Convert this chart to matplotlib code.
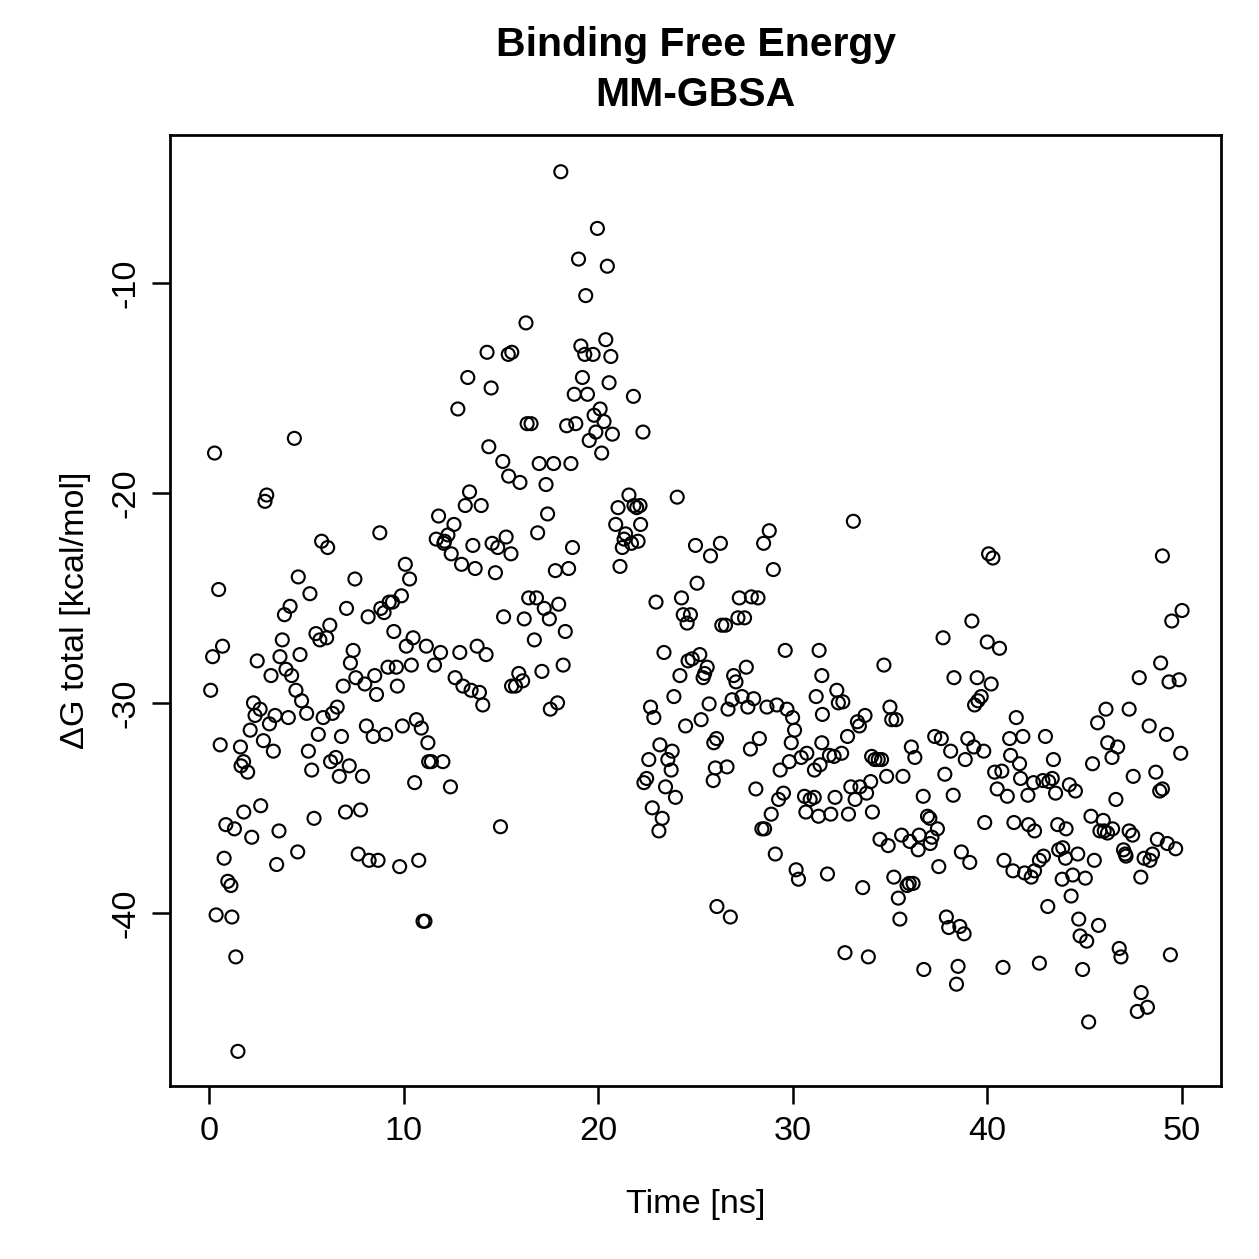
import matplotlib
matplotlib.use("Agg")
import matplotlib.pyplot as plt

plt.rcParams['font.family'] = ['Liberation Sans', 'DejaVu Sans']

time_ns = [
 0.09,0.19,0.29,0.37,0.50,0.58,0.70,0.78,0.87,0.97,1.13,1.18,1.31,1.38,1.49,1.62,1.65,1.78,1.79,1.99,
 2.12,2.20,2.29,2.37,2.48,2.63,2.66,2.80,2.88,2.97,3.11,3.19,3.31,3.40,3.48,3.60,3.65,3.77,3.88,3.96,
 4.08,4.17,4.25,4.39,4.47,4.56,4.59,4.68,4.76,
 5.02,5.11,5.19,5.28,5.40,5.50,5.62,5.70,5.79,5.87,6.05,6.10,6.21,6.25,6.35,6.52,6.59,6.70,6.81,6.90,
 7.02,7.07,7.21,7.27,7.41,7.50,7.55,7.67,7.79,7.89,8.01,8.09,8.18,8.23,8.44,8.52,8.61,8.69,8.78,8.83,
 9.00,9.08,9.20,9.26,9.43,9.50,9.63,9.68,9.80,9.89,9.94,
 10.09,10.31,10.40,10.14,10.49,10.57,10.66,10.78,10.91,11.00,11.10,11.17,11.25,11.29,11.43,11.59,11.68,11.80,11.90,12.02,
 12.07,12.11,12.28,12.41,12.45,12.59,12.65,12.79,12.89,12.98,13.05,13.17,13.30,13.39,13.47,13.56,13.68,13.78,13.90,13.99,
 14.07,14.24,14.29,14.38,14.50,14.55,14.72,14.84,14.98,15.10,15.14,15.27,15.38,15.40,15.52,15.55,15.56,
 15.75,15.92,15.98,16.12,16.20,16.29,16.35,16.43,16.55,16.72,16.83,16.89,16.97,17.11,17.23,17.32,17.40,17.49,17.54,17.71,
 17.80,17.91,17.97,18.08,18.20,18.31,18.38,18.48,18.60,18.68,18.77,18.85,18.99,19.11,19.19,19.31,19.36,19.45,19.54,19.74,
 19.79,19.88,19.96,20.10,20.18,20.30,20.39,20.47,20.56,20.65,20.73,
 20.90,21.02,21.12,21.24,21.33,21.41,21.58,21.71,21.81,21.84,21.98,22.05,22.15,22.18,22.30,22.35,22.49,22.60,22.69,22.78,
 22.86,22.97,23.12,23.17,23.29,23.38,23.46,23.58,23.75,23.80,23.89,23.97,24.06,24.20,24.28,24.37,24.49,24.57,24.62,24.74,
 24.83,25.00,25.08,25.22,25.29,25.39,25.47,25.60,25.70,25.77,25.91,25.94,26.02,26.08,26.10,
 26.28,26.35,26.54,26.62,26.67,26.79,26.88,26.96,27.08,27.18,27.25,27.39,27.52,27.61,27.69,27.82,27.87,27.99,28.10,28.21,
 28.28,28.41,28.50,28.55,28.67,28.79,28.89,29.00,29.10,29.18,29.27,29.35,29.52,29.61,29.70,29.82,29.92,29.99,30.09,30.17,
 30.29,30.43,30.60,30.67,30.72,30.89,31.10,31.11,31.20,31.32,31.35,31.49,31.49,31.52,
 31.40,31.78,31.88,31.95,32.12,32.17,32.26,32.34,32.51,32.57,32.68,32.81,32.86,32.98,33.11,33.20,33.32,33.42,33.45,33.59,
 33.71,33.79,33.88,34.00,34.05,34.09,34.22,34.39,34.48,34.56,34.68,34.82,34.90,34.99,35.08,35.19,35.30,35.42,35.50,35.59,
 35.66,35.87,35.98,36.01,36.09,36.18,36.27,36.44,36.49,36.70,36.73,
 36.92,37.04,37.15,37.06,37.29,37.43,37.50,37.63,37.72,37.81,37.89,38.01,38.11,38.24,38.28,38.41,38.49,38.58,38.66,38.80,
 38.86,38.99,39.09,39.20,39.30,39.34,39.47,39.51,39.68,39.81,39.86,39.99,40.06,40.19,40.28,40.37,40.50,40.62,40.74,40.80,
 40.85,41.02,41.14,41.19,41.31,41.36,41.48,41.65,41.70,41.82,41.91,42.08,42.11,42.25,
 42.37,42.42,42.42,42.67,42.67,42.85,42.88,42.98,43.10,43.15,43.33,43.39,43.50,43.61,43.66,43.84,43.87,44.01,44.04,44.21,
 44.30,44.38,44.52,44.64,44.69,44.76,44.89,45.03,45.10,45.20,45.32,45.40,45.49,45.66,45.71,45.78,45.95,46.00,46.09,46.17,
 46.18,46.40,46.43,46.60,46.69,46.77,46.86,46.99,47.08,47.12,47.28,47.28,47.46,47.49,
 47.70,47.80,47.88,47.90,48.05,48.22,48.31,48.35,48.48,48.65,48.73,48.85,48.90,48.99,48.99,49.20,49.24,49.33,49.40,49.47,
 49.67,49.85,49.93,50.00,
]

dg_total = [
 -29.4,-27.8,-18.1,-40.1,-24.6,-32.0,-27.3,-37.4,-35.8,-38.5,-38.7,-40.2,-36.0,-42.1,-46.6,-32.1,-33.0,-32.8,-35.2,-33.3,
 -31.3,-36.4,-30.0,-30.6,-28.0,-30.3,-34.9,-31.8,-20.4,-20.1,-31.0,-28.7,-32.3,-30.6,-37.7,-36.1,-27.8,-27.0,-25.8,-28.4,
 -30.7,-25.4,-28.7,-17.4,-29.4,-37.1,-24.0,-27.7,-29.9,
 -30.5,-32.3,-24.8,-33.2,-35.5,-26.7,-31.5,-27.0,-22.3,-30.7,-26.9,-22.6,-26.3,-32.8,-30.5,-32.6,-30.2,-33.5,-31.6,-29.2,
 -35.2,-25.5,-33.0,-28.1,-27.5,-24.1,-28.8,-37.2,-35.1,-33.5,-29.1,-31.1,-25.9,-37.5,-31.6,-28.7,-29.6,-37.5,-21.9,-25.5,
 -25.7,-31.5,-28.3,-25.2,-25.2,-26.6,-28.3,-29.2,-37.8,-24.9,-31.1,
 -23.4,-24.1,-28.2,-27.3,-26.9,-33.8,-30.8,-37.5,-31.2,-40.4,-40.4,-27.3,-31.9,-32.8,-32.8,-28.2,-22.2,-21.1,-27.6,-32.8,
 -22.4,-22.3,-22.0,-34.0,-22.9,-21.5,-28.8,-16.0,-27.6,-23.4,-29.2,-20.6,-14.5,-19.95,-29.4,-22.5,-23.6,-27.3,-29.5,-20.6,
 -30.1,-27.7,-13.3,-17.8,-15.0,-22.4,-23.8,-22.6,-35.9,-18.5,-25.9,-22.1,-13.4,-19.2,-22.9,-29.2,-13.3,
 -29.2,-28.6,-19.5,-28.95,-26.0,-11.9,-16.7,-25.0,-16.7,-27.0,-25.0,-21.9,-18.6,-28.5,-25.5,-19.6,-21.0,-26.0,-30.3,-18.6,
 -23.7,-30.0,-25.3,-4.7,-28.2,-26.6,-16.8,-23.6,-18.6,-22.6,-15.3,-16.7,-8.86,-13.0,-14.5,-13.4,-10.6,-15.3,-17.5,-13.4,
 -16.3,-17.1,-7.4,-16.0,-18.1,-16.6,-12.7,-9.2,-14.75,-13.5,-17.2,
 -21.5,-20.7,-23.5,-22.6,-22.2,-21.95,-20.1,-22.4,-15.4,-20.6,-20.7,-22.3,-20.6,-21.5,-17.1,-33.8,-33.6,-32.7,-30.2,-35.0,
 -30.7,-25.2,-36.1,-32.0,-35.5,-27.6,-34.0,-32.7,-33.2,-32.3,-29.7,-34.5,-20.2,-28.7,-25.0,-25.8,-31.1,-26.2,-28.0,-25.8,
 -27.9,-22.5,-24.3,-27.7,-30.8,-28.8,-28.6,-28.3,-30.05,-23.0,-33.7,-31.9,-33.1,-31.7,-39.7,
 -22.4,-26.3,-26.3,-33.05,-30.3,-40.2,-29.85,-28.7,-29.0,-25.95,-25.0,-29.7,-25.95,-28.3,-30.2,-32.2,-24.95,-29.8,-34.1,-25.0,
 -31.7,-36.0,-22.4,-36.0,-30.2,-21.8,-35.3,-23.65,-37.2,-30.1,-34.6,-33.2,-34.3,-27.5,-30.3,-32.8,-31.9,-30.7,-31.3,-37.95,
 -38.4,-32.6,-34.45,-35.2,-32.4,-34.6,-34.5,-33.2,-29.7,-35.4,-27.5,-28.7,-31.9,-30.55,
 -32.95,-38.15,-32.5,-35.3,-32.55,-34.5,-29.4,-30.0,-32.4,-29.95,-41.9,-31.6,-35.3,-34.0,-21.35,-34.6,-30.9,-31.1,-34.0,-38.8,
 -30.6,-34.3,-42.1,-33.75,-32.55,-35.2,-32.7,-32.7,-36.5,-32.7,-28.2,-33.5,-36.8,-30.2,-30.8,-38.3,-30.8,-39.3,-40.3,-36.3,
 -33.5,-38.7,-38.6,-36.6,-32.1,-38.6,-32.6,-37.0,-36.3,-34.45,-42.7,
 -35.4,-35.5,-36.4,-36.7,-31.6,-36.0,-37.8,-31.7,-26.9,-33.4,-40.2,-40.7,-32.3,-34.4,-28.8,-43.4,-42.55,-40.65,-37.1,-41.0,
 -32.7,-31.7,-37.6,-26.1,-32.1,-30.1,-28.8,-29.9,-29.7,-32.3,-35.7,-27.1,-22.9,-29.1,-23.1,-33.3,-34.1,-27.4,-33.25,-42.6,
 -37.5,-34.45,-31.7,-32.5,-38.0,-35.7,-30.7,-32.9,-33.6,-31.6,-38.1,-34.4,-35.8,-38.3,
 -33.8,-36.1,-38.0,-37.5,-42.4,-33.7,-37.3,-31.6,-39.7,-33.75,-33.6,-32.7,-34.3,-35.8,-37.0,-38.4,-36.9,-37.4,-36.0,-33.9,
 -39.2,-38.2,-34.2,-37.2,-40.3,-41.1,-42.7,-38.35,-41.35,-45.2,-35.4,-32.9,-37.5,-30.95,-40.6,-36.1,-35.6,-36.1,-30.3,-36.2,
 -31.9,-32.6,-36.0,-34.6,-32.1,-41.7,-42.1,-37.0,-37.2,-37.3,-30.3,-36.1,-36.3,-33.5,
 -44.7,-28.8,-38.3,-43.8,-37.4,-44.5,-31.1,-37.5,-37.2,-33.3,-36.5,-34.2,-28.1,-34.1,-23.0,-31.5,-36.7,-29.0,-42.0,-26.1,
 -36.95,-28.9,-32.4,-25.6,
]

xticks = [0, 10, 20, 30, 40, 50]
yticks = [-10, -20, -30, -40]

fig = plt.figure(figsize=(1259/180, 1259/180), dpi=180)
ax = fig.add_axes([170/1259, 1 - 1086/1259, (1221-170)/1259, (1086-135)/1259])

ax.scatter(time_ns, dg_total, s=27, facecolors='none', edgecolors='black', linewidths=0.85)

ax.set_xlim(-2, 52)
ax.set_ylim(-48.25, -2.95)
ax.set_xticks(xticks)
ax.set_yticks(yticks)
ax.set_xticklabels([str(v) for v in xticks])
ax.set_yticklabels([str(v) for v in yticks], rotation=90, va='center')

for sp in ax.spines.values():
    sp.set_linewidth(1.1)
ax.tick_params(axis='both', direction='out', length=7.2, width=1.0, labelsize=13.7, pad=5)
ax.tick_params(axis='y', pad=4)

ax.set_xlabel('Time [ns]', fontsize=13.7, labelpad=16.5)
ax.set_ylabel('ΔG total [kcal/mol]', fontsize=13.7, labelpad=8)
fig.text(0.5*(170+1221)/1259, 1 - 45/1259, 'Binding Free Energy', ha='center', va='center',
         fontsize=16.4, fontweight='bold')
fig.text(0.5*(170+1221)/1259, 1 - 95/1259, 'MM-GBSA', ha='center', va='center',
         fontsize=16.4, fontweight='bold')

fig.savefig('out.png', dpi=180, facecolor='white')
